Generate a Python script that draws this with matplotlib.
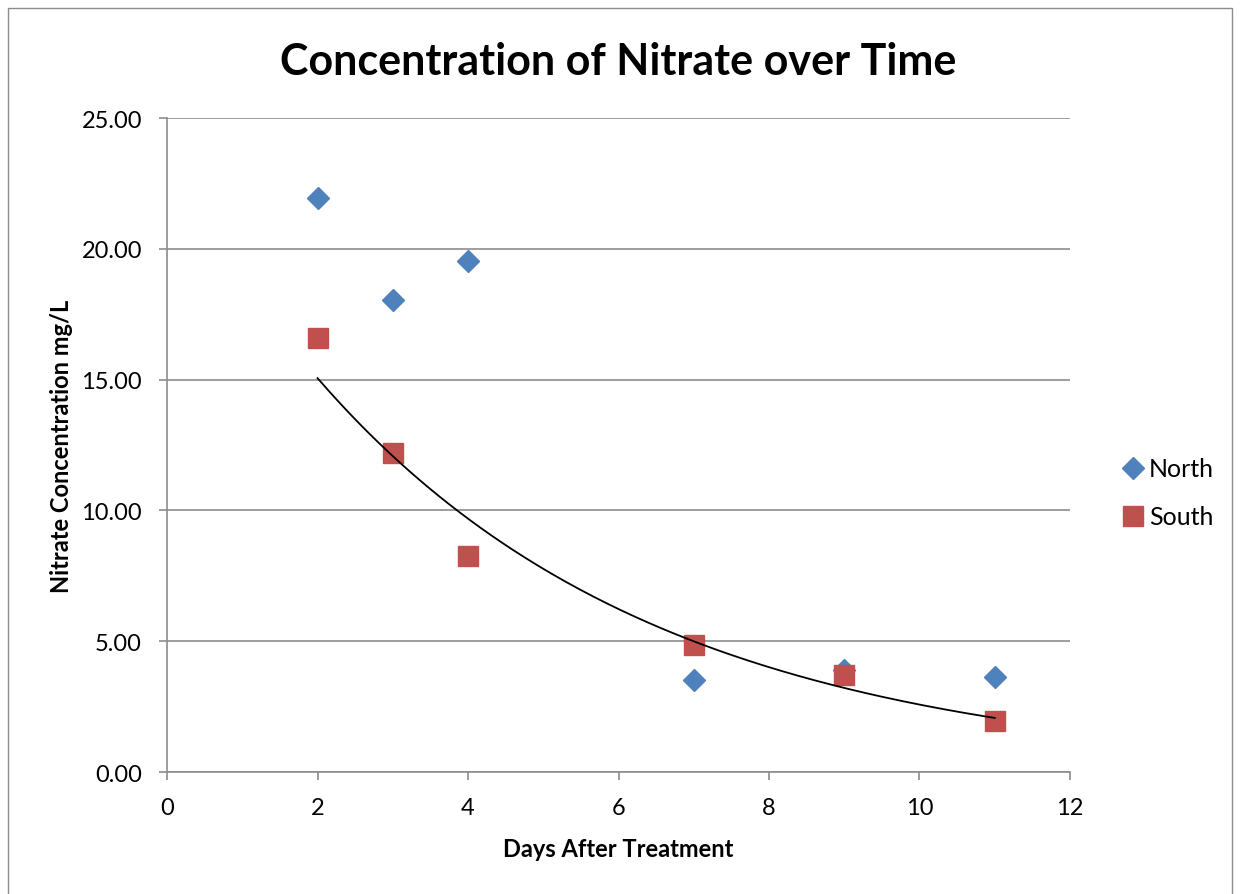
import matplotlib.pyplot as plt
import numpy as np
from matplotlib.patches import Rectangle

plt.rcParams['font.family'] = ['Lato', 'DejaVu Sans']

days = [2, 3, 4, 7, 9, 11]
north = [21.95, 18.05, 19.55, 3.50, 3.90, 3.65]
south = [16.60, 12.20, 8.25, 4.85, 3.70, 1.95]

# exponential trendline fitted on the South series
b, a = np.polyfit(days, np.log(south), 1)
xfit = np.linspace(min(days), max(days), 200)
yfit = np.exp(a + b * xfit)

fig = plt.figure(figsize=(12.41, 8.95), dpi=100)
ax = fig.add_axes([0.1346, 0.1363, 0.7276, 0.7307])

fig.patches.append(Rectangle((8 / 1241, -0.01), 1224 / 1241, 0.9995, transform=fig.transFigure,
                             fill=False, edgecolor='#8c8c8c', linewidth=1.0))

ax.plot(days, north, linestyle='none', marker='D', markersize=11, color='#4F81BD', label='North', zorder=3)
ax.plot(days, south, linestyle='none', marker='s', markersize=15, color='#C0504D', label='South', zorder=3)
ax.plot(xfit, yfit, color='black', linewidth=1.3, zorder=4)

ax.set_xlim(0, 12)
ax.set_ylim(0, 25)
ax.set_xticks(range(0, 13, 2))
ax.set_yticks(range(0, 26, 5))
ax.set_yticklabels([f'{v:.2f}' for v in range(0, 26, 5)])
ax.tick_params(labelsize=17, length=6, color='#8c8c8c', width=1.2)
ax.tick_params(axis='x', pad=12)
ax.tick_params(axis='y', pad=12)
ax.grid(axis='y', color='#8c8c8c', linewidth=1.2)
ax.set_axisbelow(True)
for side in ['top', 'right']:
    ax.spines[side].set_visible(False)
for side in ['left', 'bottom']:
    ax.spines[side].set_color('#8c8c8c')
    ax.spines[side].set_linewidth(1.2)

ax.set_title('Concentration of Nitrate over Time', fontsize=31, fontweight='bold', pad=32)
ax.set_xlabel('Days After Treatment', fontsize=17, fontweight='bold', labelpad=14)
ax.set_ylabel('Nitrate Concentration mg/L', fontsize=17, fontweight='bold', labelpad=6)

ax.legend(loc='center left', bbox_to_anchor=(1.028, 0.427), frameon=False, fontsize=18,
          handletextpad=0.05, labelspacing=1.0, handlelength=1.2)

fig.savefig('out.png', dpi=100)
